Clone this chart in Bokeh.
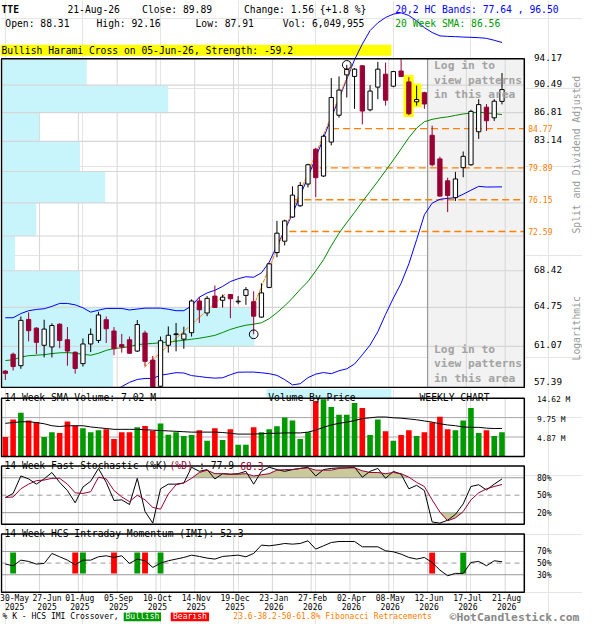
import math
from bokeh.plotting import figure
from bokeh.layouts import column
from bokeh.models import Range1d
from bokeh.core.properties import value
from bokeh.embed import file_html
from bokeh.resources import INLINE

# ---------------- data ----------------
symbol = "TTE"
last_date = "21-Aug-26"
weeks = list(range(65))
opens = [58.83, 60.34, 59.31, 63.59, 62.76, 61.16, 61.01, 63.13, 61.67, 60.52,
         59.49, 61.28, 61.61, 63.56, 62.49, 61.22, 61.67, 60.63, 62.30, 59.81,
         57.50, 61.16, 62.15, 61.73, 62.33, 65.38, 64.21, 65.86, 65.45, 66.02,
         65.30, 65.93, 65.31, 63.81, 66.73, 70.33, 71.54, 74.19, 75.46, 77.97,
         82.17, 78.92, 83.06, 86.48, 91.90, 91.69, 93.17, 87.19, 90.22, 92.00,
         90.35, 92.44, 90.93, 88.25, 89.47, 83.91, 80.98, 78.35, 76.39, 79.92,
         80.27, 84.36, 87.54, 86.15, 88.31]
highs = [58.90, 60.49, 63.87, 64.27, 62.85, 63.56, 63.22, 63.22, 62.86, 60.60,
         61.79, 62.73, 64.33, 63.87, 62.86, 62.21, 61.97, 63.53, 62.52, 60.19,
         61.97, 62.92, 63.25, 62.89, 65.54, 65.79, 65.86, 66.93, 66.02, 66.05,
         65.86, 66.76, 66.34, 67.15, 69.25, 73.76, 73.90, 77.70, 78.20, 80.39,
         82.33, 84.00, 91.46, 91.69, 93.30, 92.85, 93.25, 90.49, 93.72, 93.62,
         92.45, 94.17, 91.59, 90.43, 89.60, 85.14, 81.25, 78.72, 79.41, 81.89,
         87.20, 88.60, 87.96, 88.60, 92.16]
lows = [58.04, 58.88, 59.03, 61.52, 60.34, 60.05, 60.05, 60.89, 59.31, 58.60,
        59.23, 60.54, 61.37, 61.37, 60.25, 60.49, 60.37, 60.54, 59.26, 57.39,
        57.41, 60.49, 60.60, 60.84, 61.97, 63.25, 63.90, 64.70, 64.74, 63.71,
        65.06, 65.00, 62.18, 63.75, 66.65, 69.82, 71.08, 74.10, 75.35, 77.58,
        76.46, 78.80, 82.65, 86.15, 88.82, 87.32, 85.30, 87.00, 88.60, 87.75,
        90.20, 91.60, 86.48, 87.75, 87.32, 80.07, 76.50, 74.74, 76.01, 78.77,
        80.15, 83.46, 84.47, 85.74, 87.91]
closes = [58.63, 59.23, 63.50, 62.52, 61.43, 62.67, 63.01, 61.61, 60.63, 59.06,
          61.28, 62.18, 64.02, 62.70, 60.84, 61.01, 60.43, 63.10, 59.70, 57.48,
          61.58, 62.09, 62.22, 62.21, 65.38, 64.52, 65.64, 64.74, 65.76, 65.60,
          65.36, 66.50, 63.90, 66.18, 69.14, 72.41, 73.76, 76.68, 77.81, 80.27,
          78.72, 83.79, 88.82, 89.82, 92.66, 92.70, 87.03, 89.69, 92.70, 88.47,
          92.36, 91.69, 86.68, 88.55, 87.96, 80.27, 76.57, 76.65, 78.57, 81.29,
          86.99, 87.88, 85.77, 88.33, 89.89]
volume_m = [4.87, 9.26, 10.97, 9.02, 8.61, 4.87, 6.09, 5.85, 8.77, 7.72,
            7.07, 6.09, 6.58, 6.82, 4.39, 6.09, 6.09, 7.31, 7.64, 6.42,
            8.29, 5.44, 6.09, 5.12, 5.36, 6.58, 3.90, 7.07, 4.14, 6.82,
            2.92, 2.92, 7.31, 6.09, 6.82, 7.55, 9.75, 9.02, 4.39, 6.09,
            13.89, 14.62, 12.43, 10.48, 10.48, 13.40, 12.18, 5.36, 9.26, 6.34,
            3.90, 5.36, 6.58, 5.12, 6.09, 8.53, 9.99, 6.82, 6.58, 9.02,
            12.18, 5.85, 6.58, 5.12, 6.049955]
vol_sma_m = [8.3, 8.5, 8.7, 8.7, 8.5, 8.2, 7.7, 7.5, 7.7, 7.7,
             7.7, 7.4, 7.2, 7.0, 6.8, 6.8, 6.8, 6.8, 6.7, 6.6,
             6.5, 6.4, 6.3, 6.2, 6.1, 6.1, 6.1, 6.1, 6.0, 5.8,
             5.6, 5.6, 5.6, 5.7, 5.8, 5.8, 5.9, 5.9, 5.9, 6.1,
             6.6, 7.3, 7.9, 8.3, 8.6, 9.0, 9.5, 9.7, 9.9, 9.9,
             9.7, 9.6, 9.4, 9.2, 8.9, 8.6, 8.2, 7.9, 7.7, 7.4,
             7.3, 7.3, 7.1, 7.0, 7.02]
sma20 = [59.77, 59.84, 60.08, 60.21, 60.25, 60.30, 60.40, 60.47, 60.49, 60.43,
         60.34, 60.25, 60.43, 60.69, 60.87, 60.93, 61.04, 61.22, 61.28, 61.33,
         61.40, 61.46, 61.54, 61.63, 61.72, 61.81, 61.94, 62.08, 62.35, 62.64,
         62.86, 63.04, 63.13, 63.27, 63.66, 64.24, 64.90, 65.67, 66.54, 67.32,
         68.41, 69.57, 71.05, 72.41, 73.58, 74.71, 75.92, 77.10, 78.29, 79.55,
         80.84, 82.21, 83.61, 84.83, 85.64, 85.95, 86.14, 86.27, 86.46, 86.65,
         86.77, 86.90, 86.77, 86.71, 86.56]
band_upper = [63.75, 63.75, 64.15, 64.43, 64.55, 64.62, 64.85, 65.14, 65.14, 65.00,
              64.71, 64.29, 64.48, 64.65, 64.65, 64.65, 64.50, 64.59, 64.68, 64.68,
              64.68, 64.57, 64.43, 64.43, 64.90, 65.76, 66.18, 66.44, 66.83, 67.32,
              67.61, 67.81, 67.76, 68.21, 69.31, 71.05, 72.73, 74.55, 76.65, 78.80,
              81.13, 83.55, 86.14, 88.69, 91.33, 94.03, 96.26, 98.24, 99.40, 100.20,
              100.71, 100.91, 100.50, 99.69, 98.68, 97.96, 97.46, 97.39, 97.35, 97.29,
              97.25, 97.20, 97.10, 96.82, 96.50]
band_lower = [55.8, 55.9, 56.0, 56.0, 56.0, 56.0, 56.0, 55.8, 55.8, 55.9,
              56.0, 56.2, 56.4, 56.7, 57.1, 57.47, 57.84, 58.09, 58.18, 58.18,
              58.47, 58.57, 58.69, 58.66, 58.43, 58.35, 58.26, 58.21, 58.24, 58.51,
              58.73, 58.74, 58.74, 58.68, 58.60, 58.45, 58.08, 57.62, 57.72, 58.25,
              58.56, 58.70, 58.60, 58.86, 59.03, 59.46, 60.29, 61.18, 62.42, 64.08,
              65.66, 67.15, 69.14, 71.70, 74.44, 75.76, 76.20, 76.31, 76.38, 76.78,
              77.25, 77.70, 77.62, 77.63, 77.64]
stoch_k = [46, 53, 83, 78, 69, 78, 89, 72, 58, 37,
           64, 74, 96, 72, 41, 42, 34, 79, 22, 2,
           61, 69, 69, 71, 98, 91, 94, 78, 87, 86,
           87, 91, 69, 91, 98, 94, 91, 94, 96, 98,
           83, 94, 96, 97, 97, 98, 81, 91, 96, 79,
           91, 86, 61, 67, 58, 4, 2, 7, 17, 35,
           65, 68, 59, 69, 77.9]
stoch_d = [46, 47, 61, 69, 75, 76, 79, 79, 69, 54,
           53, 56, 81, 78, 58, 47, 39, 50, 42, 29,
           26, 52, 68, 71, 79, 89, 93, 87, 87, 86,
           86, 87, 83, 85, 87, 93, 94, 94, 96, 97,
           93, 93, 93, 96, 97, 97, 92, 89, 89, 87,
           89, 87, 81, 72, 65, 42, 21, 6, 11, 22,
           42, 54, 61, 65, 68.3]
imi = [48.3, 45.4, 55.1, 52.9, 48.3, 49.4, 66.6, 60.9, 55.1, 47.1,
       55.1, 55.1, 60.9, 62.6, 59.7, 62.6, 49.4, 56.9, 54.0, 42.6,
       50.0, 54.0, 56.9, 59.7, 63.7, 61.4, 58.6, 56.9, 61.4, 62.6,
       63.7, 60.9, 66.6, 80.9, 79.7, 81.4, 83.7, 82.6, 83.7, 88.3,
       74.0, 79.7, 85.4, 87.1, 87.1, 87.1, 78.0, 78.0, 78.0, 71.1,
       69.4, 65.4, 59.7, 56.9, 59.7, 51.1, 38.0, 28.3, 32.3, 32.3,
       51.1, 52.9, 45.4, 54.0, 52.3]
imi_bull_weeks = [1, 10, 17, 20, 59]
imi_bear_weeks = [9, 14, 18, 55]
fib_levels = [84.77, 79.89, 76.15, 72.59]
fib_start_week = [42.1, 39.1, 37.1, 36.6]
vbp_volume = [115, 261, 81, 14, 36, 107, 81, 39, 172, 88]   # price bands, bottom to top
swing_low_week, swing_high_week = 32, 44
trend_x = [[17.9, 28.3], [32.0, 44.6]]
trend_y = [[59.17, 66.05], [64.90, 93.06]]
pattern_weeks = [52, 53]
pattern_text = "Bullish Harami Cross on 05-Jun-26, Strength: -59.2"
login_from_week = 54
date_weeks = [0, 4, 9, 14, 19, 24, 29, 34, 39, 44, 49, 54, 59, 64]
date_labels = ["30-May", "27-Jun", "01-Aug", "05-Sep", "10-Oct", "14-Nov", "19-Dec",
               "23-Jan", "27-Feb", "02-Apr", "08-May", "12-Jun", "17-Jul", "21-Aug"]
date_years = ["2025"] * 7 + ["2026"] * 7

# ---------------- layout ----------------
S = 0.97
MONO = "DejaVu Sans Mono"
W_REF = 600
N = len(weeks)

def XI(rx):
    return (rx - 5) / 8.0

X_LEFT, X_RIGHT = XI(0), XI(W_REF)
BOX_L, BOX_R = XI(1), XI(540)
GRID_X = [w + 0.41 for w in date_weeks[1:]]
VBP_MAX_W = 32.6

def fsz(px):
    return value("%.2fpx" % (px * S))

lo, hi = min(lows), max(highs)
P_TOP, P_BOT = 60.0, 399.0
KLOG = math.log(hi / lo) / (P_BOT - P_TOP)
def py(ry): return hi * math.exp(-KLOG * (ry - P_TOP))
vmax = max(volume_m)
def vy(ry): return vmax * (470.0 - ry) / 60.0
def sy(ry): return 100.0 * (540.0 - ry) / 60.0
def iy(ry): return 100.0 * (610.0 - ry) / 60.0

def new_fig(a, b, conv, log=False):
    pa, pb = round(a * S), round(b * S)
    p = figure(width=round(W_REF * S), height=pb - pa,
               x_range=Range1d(X_LEFT, X_RIGHT),
               y_range=Range1d(conv(pb / S), conv(pa / S)),
               y_axis_type="log" if log else "linear",
               x_axis_location=None, y_axis_location=None,
               toolbar_location=None, output_backend="svg", min_border=0)
    p.outline_line_color = None
    p.background_fill_color = "white"
    p.border_fill_color = "white"
    return p, pa, pb

def txt(p, x, y, s, size=10, color="black", align="left", baseline="middle",
        bold=False, angle=0.0, rn="default"):
    p.text(x=[x], y=[y], text=[s], text_font=value(MONO), text_font_size=fsz(size),
           text_color=color, text_align=align, text_baseline=baseline,
           text_font_style="bold" if bold else "normal", angle=angle, y_range_name=rn)

def vgrid(p, y0, y1, color="#d6d6d6", rn="default"):
    n = len(GRID_X)
    p.segment(x0=GRID_X, x1=GRID_X, y0=[y0] * n, y1=[y1] * n, line_color=color,
              line_width=1, y_range_name=rn)

def hlines(p, ys, color, dash="solid", width=1.0, rn="default"):
    n = len(ys)
    p.segment(x0=[BOX_L] * n, x1=[BOX_R] * n, y0=ys, y1=ys, line_color=color,
              line_width=width, line_dash=dash, y_range_name=rn)

def box(p, y0, y1, rn="default"):
    p.quad(left=[BOX_L], right=[BOX_R], bottom=[y0], top=[y1], fill_color=None,
           line_color="black", line_width=1.5, y_range_name=rn)

DN = "#990033"
up = [c >= o for o, c in zip(opens, closes)]
ORANGE = "#ff8000"

# ---------------- header + price panel ----------------
f1, _, p1b = new_fig(0, 400, py, log=True)
price_ticks = [lo + j * (hi - lo) / 10 for j in range(11)]
login_left = login_from_week + 0.41
f1.quad(left=[login_left], right=[BOX_R], bottom=[lo], top=[hi], fill_color="#f2f2f2", line_color=None)
vgrid(f1, lo, hi)
vb_right = [BOX_L + v / max(vbp_volume) * VBP_MAX_W for v in vbp_volume]
f1.quad(left=[BOX_L] * 10, right=vb_right, bottom=price_ticks[:-1], top=price_ticks[1:],
        fill_color="#c8f4fc", line_color=None)
hlines(f1, price_ticks[1:-1], "#d6d6d6", width=1.2)
f1.segment(x0=[login_left], x1=[login_left], y0=[lo], y1=[hi], line_color="#9a9a9a", line_width=1.2)
f1.segment(x0=fib_start_week, x1=[BOX_R] * 4, y0=fib_levels, y1=fib_levels,
           line_color=ORANGE, line_width=1.3, line_dash="7 4")
f1.quad(left=[XI(0)], right=[XI(403)], top=[py(45.5)], bottom=[py(57)], fill_color="#ffff00", line_color=None)
txt(f1, XI(1), py(51.3), pattern_text)
f1.quad(left=[w - 0.7 for w in pattern_weeks], right=[w + 0.62 for w in pattern_weeks],
        top=[highs[w] * math.exp(KLOG * 2.3) for w in pattern_weeks],
        bottom=[lows[w] * math.exp(-KLOG * 1.8) for w in pattern_weeks],
        fill_color="#ffff00", line_color=None)
f1.line(weeks, sma20, line_color="#008800", line_width=1)
f1.line(weeks, band_upper, line_color="#0000ff", line_width=1)
f1.line(weeks, band_lower, line_color="#0000ff", line_width=1)
f1.multi_line(trend_x, trend_y, line_color=ORANGE, line_width=1, line_dash="4 1")
cols = ["black" if u else DN for u in up]
fills = ["white" if u else DN for u in up]
f1.segment(x0=weeks, x1=weeks, y0=lows, y1=highs, line_color=cols, line_width=1)
f1.vbar(x=weeks, width=0.55, top=[max(o, c) for o, c in zip(opens, closes)],
        bottom=[min(o, c) for o, c in zip(opens, closes)], fill_color=fills, line_color=cols, line_width=1)
f1.scatter(x=[swing_low_week, swing_high_week], y=[lows[swing_low_week], highs[swing_high_week]],
           marker="circle", size=9 * S, fill_color=None, line_color="black", line_width=1)
for k, s in enumerate(["Log in to", "view patterns", "in this area"]):
    txt(f1, XI(447), py(67.3 + 15 * k), s, size=11.6, color="#a3a3a3", bold=True)
    txt(f1, XI(447), py(359.3 + 15 * k), s, size=11.6, color="#a3a3a3", bold=True)
box(f1, lo, hi)
# price tick labels: text bottom a little under the grid line, kept inside the canvas
y_label_floor = py(p1b / S - 3.6)
for t in price_ticks:
    if min(abs(math.log(t / f)) for f in fib_levels) < 0.012:
        continue
    txt(f1, XI(550), max(t * math.exp(-KLOG * 2.0), y_label_floor), "%.2f" % t, size=9.6,
        baseline="bottom")
for f in fib_levels:
    txt(f1, XI(544), f, "%.2f" % f, size=8.4, color=ORANGE)
txt(f1, XI(593.5), py(159), "Split and Dividend Adjusted", size=10, color="#9a9a9a", align="center", angle=math.pi / 2)
txt(f1, XI(593.5), py(338), "Logarithmic", size=10, color="#9a9a9a", align="center", angle=math.pi / 2)
chg = closes[-1] - closes[-2]
pct = chg / closes[-2] * 100
r1, r2 = py(9), py(24)
txt(f1, XI(1), r1, symbol, bold=True)
txt(f1, XI(69), r1, last_date)
txt(f1, XI(146), r1, "Close: %.2f" % closes[-1])
txt(f1, XI(251), r1, "Change: %.2f {%+.1f %%}" % (chg, pct))
txt(f1, XI(407), r1, "20,2 HC Bands: %.2f , %.2f" % (band_lower[-1], band_upper[-1]), color="#0000ff")
txt(f1, XI(5), r2, "Open: %.2f" % opens[-1])
txt(f1, XI(99), r2, "High: %.2f" % highs[-1])
txt(f1, XI(201), r2, "Low: %.2f" % lows[-1])
txt(f1, XI(291), r2, "Vol: {:,}".format(int(round(volume_m[-1] * 1e6))))
txt(f1, XI(407), r2, "20 Week SMA: %.2f" % sma20[-1], color="#009900")

# ---------------- indicator panels (one figure, one y range per panel) ----------------
f2, pa2, pb2 = new_fig(400, 643, iy)
top_ref, bot_ref = pa2 / S, pb2 / S
f2.extra_y_ranges = {"vol": Range1d(vy(bot_ref), vy(top_ref)),
                     "sto": Range1d(sy(bot_ref), sy(top_ref))}

# volume
vgrid(f2, 0, vmax, rn="vol")
vol_ticks = [vmax / 3, 2 * vmax / 3, vmax]
hlines(f2, vol_ticks[:2], "#a8a8a8", rn="vol")
f2.vbar(x=weeks, width=0.72, top=volume_m, bottom=0, y_range_name="vol",
        fill_color=["#009900" if u else "#ff0000" for u in up], line_color=None)
f2.line(weeks, vol_sma_m, line_color="black", line_width=1, y_range_name="vol")
f2.quad(left=[XI(274)], right=[XI(403)], top=[vy(400.5)], bottom=[vy(411)], fill_color="#c8f4fc",
        line_color=None, y_range_name="vol")
box(f2, 0, vmax, rn="vol")
for t in vol_ticks:
    txt(f2, XI(553), t - vmax * 1.5 / 60, "%.2f M" % t, size=8.2, rn="vol")
tb = vy(409.6)
txt(f2, XI(4), tb, "14 Week SMA Volume: %.2f M" % vol_sma_m[-1], baseline="alphabetic", rn="vol")
txt(f2, XI(276), tb, "Volume By Price", baseline="alphabetic", rn="vol")
txt(f2, XI(432), tb, "WEEKLY CHART", baseline="alphabetic", rn="vol")

# stochastic
vgrid(f2, 0, 100, rn="sto")
f2.varea(x=weeks, y1=[80] * N, y2=[max(d, 80) for d in stoch_d], fill_color="#c9c99b", y_range_name="sto")
f2.varea(x=weeks, y1=[min(d, 20) for d in stoch_d], y2=[20] * N, fill_color="#c9c99b", y_range_name="sto")
hlines(f2, [80, 20], "#9a9a9a", rn="sto")
hlines(f2, [50], "#9a9a9a", dash="5 4", rn="sto")
f2.line(weeks, stoch_k, line_color="black", line_width=1, y_range_name="sto")
f2.line(weeks, stoch_d, line_color=DN, line_width=1, y_range_name="sto")
box(f2, 0, 100, rn="sto")
for t in [80, 50, 20]:
    txt(f2, XI(553), t, "%d%%" % t, size=8.4, rn="sto")
cw = 6.08
ty = sy(479.6)
txt(f2, XI(4), ty, "14 Week Fast Stochastic (%K)", baseline="alphabetic", rn="sto")
txt(f2, XI(4 + 28 * cw), ty, "(%D)", color=DN, baseline="alphabetic", rn="sto")
txt(f2, XI(4 + 33 * cw), ty, ": %.1f" % stoch_k[-1], baseline="alphabetic", rn="sto")
txt(f2, XI(4 + 40 * cw), ty, "%.1f" % stoch_d[-1], color=DN, baseline="alphabetic", rn="sto")

# IMI
vgrid(f2, 0, 100)
hlines(f2, [70, 30], "#9a9a9a")
hlines(f2, [50], "#9a9a9a", dash="5 4")
f2.vbar(x=imi_bull_weeks, width=0.75, bottom=32, top=68, fill_color="#009900", line_color=None)
f2.vbar(x=imi_bear_weeks, width=0.75, bottom=32, top=68, fill_color="#ff0000", line_color=None)
f2.line(weeks, imi, line_color="black", line_width=1)
box(f2, 0, 100)
for t in [70, 50, 30]:
    txt(f2, XI(553), t, "%d%%" % t, size=8.4)
txt(f2, XI(4), iy(549.4), "14 Week HCS Intraday Momentum (IMI): %.1f" % imi[-1], baseline="alphabetic")

# date labels
for k, (w, d, yv) in enumerate(zip(date_weeks, date_labels, date_years)):
    if k == 0:
        cx = XI(14.5)
    elif k == 1:
        cx = XI(48)
    else:
        cx = w + 0.6
    txt(f2, cx, iy(616.5), d, size=8.3, align="center")
    txt(f2, cx, iy(625), yv, size=8.3, align="center")

# footer
fy = iy(635.3)
txt(f2, XI(2), fy, "% K - HCS IMI Crossover,", size=8.3)
f2.quad(left=[XI(127)], right=[XI(165.5)], top=[iy(630.8)], bottom=[iy(640)], fill_color="#009900", line_color=None)
txt(f2, XI(146.3), fy, "Bullish", size=8.3, color="white", align="center")
f2.quad(left=[XI(175.5)], right=[XI(215)], top=[iy(630.8)], bottom=[iy(640)], fill_color="#ff0000", line_color=None)
txt(f2, XI(195.3), fy, "Bearish", size=8.3, color="white", align="center")
txt(f2, XI(240), fy, "23.6-38.2-50-61.8% Fibonacci Retracements", size=8.3, color=ORANGE)
txt(f2, XI(463), fy, "\u00a9HotCandlestick.com", size=11.7, color="#888888", bold=True)

layout = column(f1, f2)
open("out.html", "w").write(file_html(layout, INLINE))
